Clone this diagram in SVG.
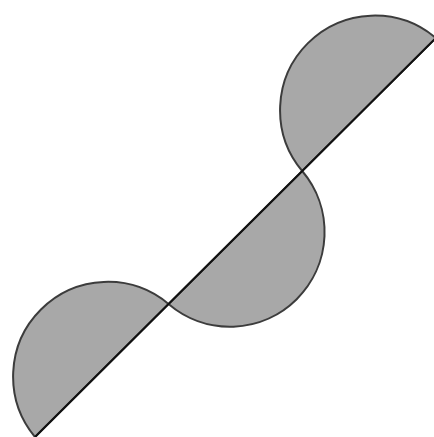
<svg xmlns="http://www.w3.org/2000/svg" width="434" height="437" viewBox="0 0 434 437">
<style>
.half{fill:#a8a8a8;stroke:#3c3c3c;stroke-width:2}
.dia{stroke:#111;stroke-width:2;fill:none}
</style>
<rect width="434" height="437" fill="#fff"/>
<g id="semicircle-1"><path class="half" d="M35,437 A94.6,94.6 0 0 1 168.5,304 Z"/></g>
<g id="semicircle-2"><path class="half" d="M168.5,304 A94.6,94.6 0 0 0 302.2,171 Z"/></g>
<g id="semicircle-3"><path class="half" d="M302.2,171 A94.6,94.6 0 0 1 435.8,38 Z"/></g>
<g id="connectors"><line class="dia" x1="35" y1="437" x2="435.8" y2="38"/></g>
</svg>
